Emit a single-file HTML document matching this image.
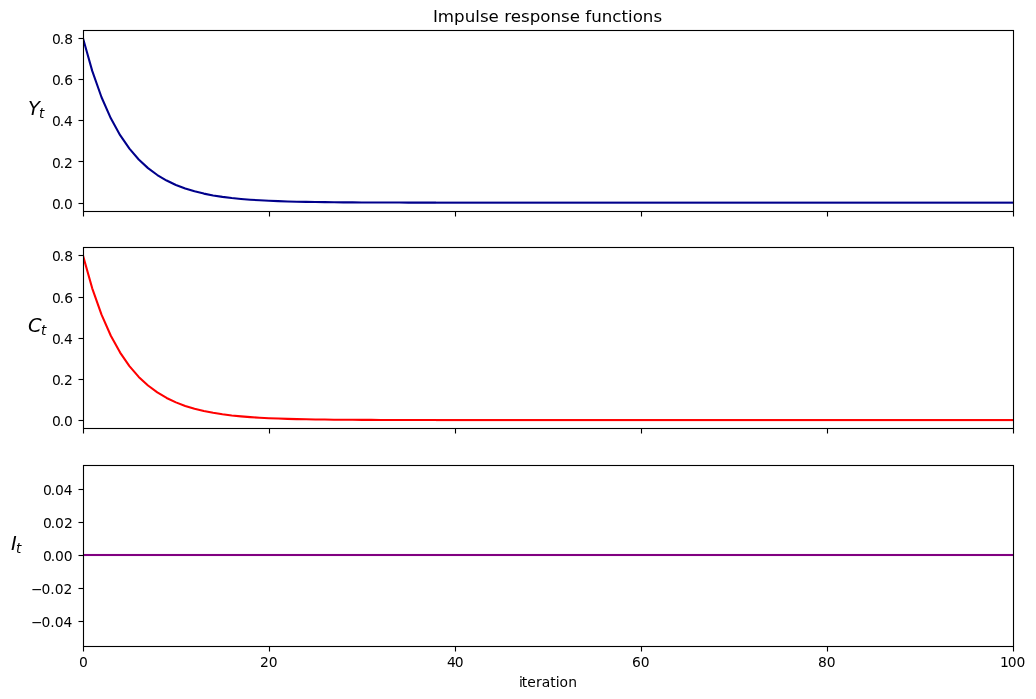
<!DOCTYPE html>
<html lang="en"><head><meta charset="utf-8"><title>Impulse response functions</title>
<style>
html,body{margin:0;padding:0;background:#fff}
body{width:1036px;height:699px;overflow:hidden}
svg{display:block}
text{font-family:"DejaVu Sans","Liberation Sans",sans-serif;fill:#000;white-space:pre}
.tk{font-size:13.89px}
.ti{font-size:16.67px}
.yl{font-size:19.44px;font-style:italic}
.sub{font-size:13.61px}
</style></head>
<body>
<svg width="1036" height="699" viewBox="0 0 1036 699">
<rect width="1036" height="699" fill="#fff"/>
<defs>
<clipPath id="c0"><rect x="83.5" y="30.5" width="930.0" height="181.0"/></clipPath>
<clipPath id="c1"><rect x="83.5" y="247.5" width="930.0" height="181.0"/></clipPath>
<clipPath id="c2"><rect x="83.5" y="465.5" width="930.0" height="181.0"/></clipPath>
</defs>
<g clip-path="url(#c0)"><polyline points="82.92,37.96 92.22,70.90 101.52,97.25 110.82,118.33 120.12,135.20 129.42,148.69 138.72,159.48 148.02,168.12 157.32,175.03 166.62,180.55 175.92,184.98 185.22,188.51 194.52,191.34 203.82,193.61 213.12,195.42 222.42,196.87 231.72,198.02 241.02,198.95 250.32,199.69 259.62,200.29 268.92,200.76 278.22,201.14 287.52,201.45 296.82,201.69 306.12,201.88 315.42,202.04 324.72,202.16 334.02,202.26 343.32,202.34 352.62,202.41 361.92,202.46 371.22,202.50 380.52,202.53 389.82,202.56 399.12,202.58 408.42,202.59 417.72,202.61 427.02,202.62 436,202.66" fill="none" stroke="#00008b" stroke-width="2.083" stroke-linejoin="round"/><rect x="436" y="201.619" width="577.5" height="2.083" fill="#00008b"/></g>
<g fill="#000">
<rect x="82.945" y="211.5" width="1.111" height="5.0"/>
<rect x="268.945" y="211.5" width="1.111" height="5.0"/>
<rect x="454.945" y="211.5" width="1.111" height="5.0"/>
<rect x="640.944" y="211.5" width="1.111" height="5.0"/>
<rect x="826.944" y="211.5" width="1.111" height="5.0"/>
<rect x="1012.944" y="211.5" width="1.111" height="5.0"/>
<rect x="78.5" y="202.945" width="5.0" height="1.111"/>
<rect x="78.5" y="160.945" width="5.0" height="1.111"/>
<rect x="78.5" y="119.945" width="5.0" height="1.111"/>
<rect x="78.5" y="78.945" width="5.0" height="1.111"/>
<rect x="78.5" y="37.944" width="5.0" height="1.111"/>
</g>
<rect x="83.5" y="30.5" width="930.0" height="181.0" fill="none" stroke="#000" stroke-width="1.111"/>
<g clip-path="url(#c1)"><polyline points="82.92,255.37 92.22,288.31 101.52,314.66 110.82,335.74 120.12,352.61 129.42,366.10 138.72,376.89 148.02,385.53 157.32,392.44 166.62,397.96 175.92,402.39 185.22,405.92 194.52,408.75 203.82,411.02 213.12,412.83 222.42,414.28 231.72,415.43 241.02,416.36 250.32,417.10 259.62,417.70 268.92,418.17 278.22,418.55 287.52,418.86 296.82,419.10 306.12,419.29 315.42,419.45 324.72,419.57 334.02,419.67 343.32,419.75 352.62,419.82 361.92,419.87 371.22,419.91 380.52,419.94 389.82,419.97 399.12,419.99 408.42,420.00 417.72,420.02 427.02,420.03 436,420.07" fill="none" stroke="#ff0000" stroke-width="2.083" stroke-linejoin="round"/><rect x="436" y="419.029" width="577.5" height="2.083" fill="#ff0000"/></g>
<g fill="#000">
<rect x="82.945" y="428.5" width="1.111" height="5.0"/>
<rect x="268.945" y="428.5" width="1.111" height="5.0"/>
<rect x="454.945" y="428.5" width="1.111" height="5.0"/>
<rect x="640.944" y="428.5" width="1.111" height="5.0"/>
<rect x="826.944" y="428.5" width="1.111" height="5.0"/>
<rect x="1012.944" y="428.5" width="1.111" height="5.0"/>
<rect x="78.5" y="419.945" width="5.0" height="1.111"/>
<rect x="78.5" y="378.945" width="5.0" height="1.111"/>
<rect x="78.5" y="337.945" width="5.0" height="1.111"/>
<rect x="78.5" y="296.945" width="5.0" height="1.111"/>
<rect x="78.5" y="254.945" width="5.0" height="1.111"/>
</g>
<rect x="83.5" y="247.5" width="930.0" height="181.0" fill="none" stroke="#000" stroke-width="1.111"/>
<g clip-path="url(#c2)"><rect x="83.5" y="553.958" width="930.0" height="2.083" fill="#800080"/></g>
<g fill="#000">
<rect x="82.945" y="646.5" width="1.111" height="5.0"/>
<rect x="268.945" y="646.5" width="1.111" height="5.0"/>
<rect x="454.945" y="646.5" width="1.111" height="5.0"/>
<rect x="640.944" y="646.5" width="1.111" height="5.0"/>
<rect x="826.944" y="646.5" width="1.111" height="5.0"/>
<rect x="1012.944" y="646.5" width="1.111" height="5.0"/>
<rect x="78.5" y="620.944" width="5.0" height="1.111"/>
<rect x="78.5" y="587.944" width="5.0" height="1.111"/>
<rect x="78.5" y="554.944" width="5.0" height="1.111"/>
<rect x="78.5" y="521.944" width="5.0" height="1.111"/>
<rect x="78.5" y="488.945" width="5.0" height="1.111"/>
</g>
<rect x="83.5" y="465.5" width="930.0" height="181.0" fill="none" stroke="#000" stroke-width="1.111"/>
<text class="tk" x="51.922 59.734 63.906" y="209">0.0</text>
<text class="tk" x="51.947 59.634 63.931" y="168">0.2</text>
<text class="tk" x="51.947 59.634 63.931" y="126">0.4</text>
<text class="tk" x="51.947 59.634 64.181" y="85">0.6</text>
<text class="tk" x="51.922 59.734 64.156" y="44">0.8</text>
<text class="tk" x="51.922 59.734 63.906" y="426">0.0</text>
<text class="tk" x="51.947 59.634 63.931" y="385">0.2</text>
<text class="tk" x="51.947 59.634 63.931" y="344">0.4</text>
<text class="tk" x="51.947 59.634 64.181" y="303">0.6</text>
<text class="tk" x="51.922 59.734 64.156" y="261">0.8</text>
<text class="tk" x="30.919 41.544 50.372 54.778 63.606" y="627">−0.04</text>
<text class="tk" x="30.919 41.544 50.372 54.778 63.606" y="594">−0.02</text>
<text class="tk" x="42.944 50.631 54.928 63.756" y="561">0.00</text>
<text class="tk" x="42.894 50.706 54.878 63.956" y="528">0.02</text>
<text class="tk" x="42.894 50.706 54.878 63.706" y="495">0.04</text>
<text class="tk" x="78.906" y="667">0</text>
<text class="tk" x="259.892 268.704" y="667">20</text>
<text class="tk" x="446.942 454.754" y="667">40</text>
<text class="tk" x="631.942 640.754" y="667">60</text>
<text class="tk" x="817.952 826.764" y="667">80</text>
<text class="tk" x="999.888 1007.7 1016.528" y="667">100</text>
<text class="ti" x="432.954 437.874 454.104 464.694 475.274 479.914 488.604 498.874 504.184 510.684 520.934 529.634 540.224 550.424 560.984 569.684 579.954 585.254 591.144 601.704 612.284 621.454 628.004 632.644 642.844 653.424" y="22">Impulse response functions</text>
<text class="tk" x="518.938 521.656 527.219 536.016 541.719 550.219 555.656 559.516 568.125" y="687">iteration</text>
<text class="yl" x="27.9" y="115">Y<tspan class="sub" x="38.9" y="118.3">t</tspan></text>
<text class="yl" x="27.9" y="332">C<tspan class="sub" x="40.978" y="335.3">t</tspan></text>
<text class="yl" x="10.9" y="550">I<tspan class="sub" x="15.884" y="553.3">t</tspan></text>
</svg>
</body></html>
